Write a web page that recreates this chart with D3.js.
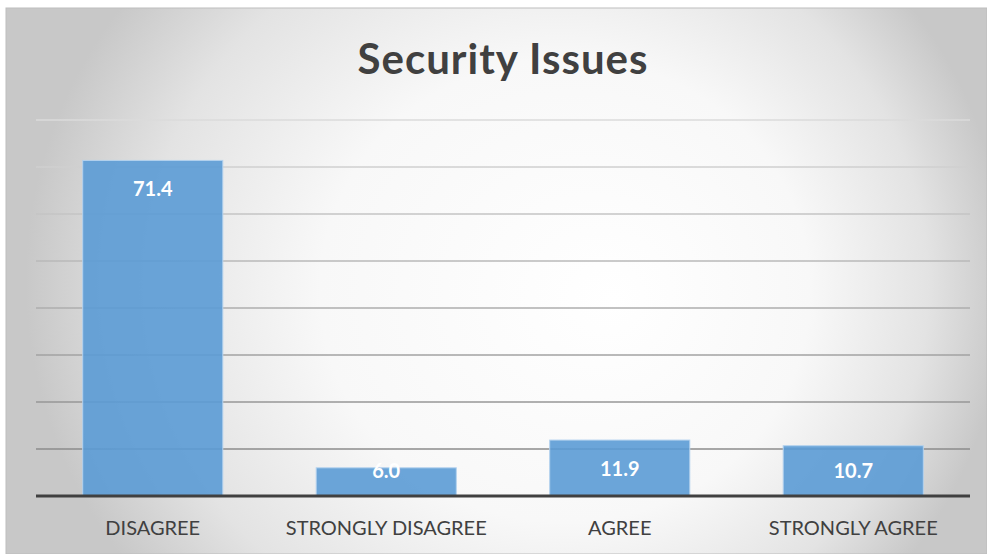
<!DOCTYPE html>
<html>
<head>
<meta charset="utf-8">
<script src="https://cdn.jsdelivr.net/npm/d3@7"></script>
<style>
  html, body { margin: 0; padding: 0; background: #ffffff; }
  svg { display: block; }
</style>
</head>
<body>
<script>
const categories = ["DISAGREE", "STRONGLY DISAGREE", "AGREE", "STRONGLY AGREE"];
const values = [71.4, 6.0, 11.9, 10.7];
const gridTicks = [10, 20, 30, 40, 50, 60, 70, 80];
const title = "Security Issues";

const W = 987, H = 554;
const svg = d3.select("body").append("svg").attr("width", W).attr("height", H);
const defs = svg.append("defs");

// background radial gradient
const bg = defs.append("radialGradient").attr("id", "bg")
  .attr("cx", 0.52).attr("cy", 0.5).attr("r", 0.5)
  .attr("fx", 0.62).attr("fy", 0.52)
  .attr("gradientTransform", "translate(0.5,0.5) scale(1,1.7) translate(-0.5,-0.5)");
bg.append("stop").attr("offset", 0).attr("stop-color", "#ffffff");
bg.append("stop").attr("offset", 0.5).attr("stop-color", "#f8f8f8");
bg.append("stop").attr("offset", 0.8).attr("stop-color", "#e3e3e3");
bg.append("stop").attr("offset", 1).attr("stop-color", "#c8c8c8");

// gridline vertical gradient
const gg = defs.append("linearGradient").attr("id", "grid")
  .attr("gradientUnits", "userSpaceOnUse")
  .attr("x1", 0).attr("y1", 115).attr("x2", 0).attr("y2", 455);
gg.append("stop").attr("offset", 0).attr("stop-color", "#dcdcdc");
gg.append("stop").attr("offset", 1).attr("stop-color", "#8a8a8a");

svg.append("rect").attr("x", 6).attr("y", 8).attr("width", W - 6).attr("height", H - 8)
  .attr("fill", "url(#bg)").attr("stroke", "#bdbdbd").attr("stroke-width", 1);

const x = d3.scaleBand().domain(categories).range([36, 970]).paddingInner(0.4).paddingOuter(0.2);
const y = d3.scaleLinear().domain([0, 80]).range([496, 120]);

// gridlines
svg.append("g").selectAll("line").data(gridTicks).join("line")
  .attr("x1", 36).attr("x2", 970)
  .attr("y1", d => y(d)).attr("y2", d => y(d))
  .attr("stroke", "url(#grid)").attr("stroke-width", 1.5);

// bars
svg.append("g").selectAll("rect").data(values).join("rect")
  .attr("x", (d, i) => x(categories[i]))
  .attr("y", d => y(d))
  .attr("width", x.bandwidth())
  .attr("height", d => y(0) - y(d))
  .attr("fill", "#5B9BD5").attr("fill-opacity", 0.9)
  .attr("stroke", "#b4d2ee").attr("stroke-width", 1);

// axis line
svg.append("line").attr("x1", 36).attr("x2", 970).attr("y1", y(0)).attr("y2", y(0))
  .attr("stroke", "#404040").attr("stroke-width", 3);

// value labels
svg.append("g").selectAll("text").data(values).join("text")
  .attr("x", (d, i) => x(categories[i]) + x.bandwidth() / 2)
  .attr("y", d => Math.min(y(d) + 28, 470))
  .attr("text-anchor", "middle").attr("dominant-baseline", "central")
  .attr("font-family", "Lato, sans-serif").attr("font-weight", "bold")
  .attr("font-size", 20).attr("fill", "#ffffff")
  .text(d => d.toFixed(1));

// category labels
const xAxis = d3.axisBottom(x).tickSize(0).tickPadding(0);
const gx = svg.append("g").attr("transform", `translate(0,${y(0)})`).call(xAxis);
gx.select(".domain").remove();
gx.selectAll("text")
  .attr("y", 39).attr("dy", 0)
  .attr("font-family", "Lato, sans-serif").attr("font-size", 20)
  .attr("fill", "#404040");

// title
svg.append("text").attr("x", 503).attr("y", 74)
  .attr("text-anchor", "middle")
  .attr("font-family", "Lato, sans-serif").attr("font-weight", "bold")
  .attr("font-size", 42).attr("letter-spacing", 1).attr("fill", "#404040")
  .text(title);
</script>
</body>
</html>
